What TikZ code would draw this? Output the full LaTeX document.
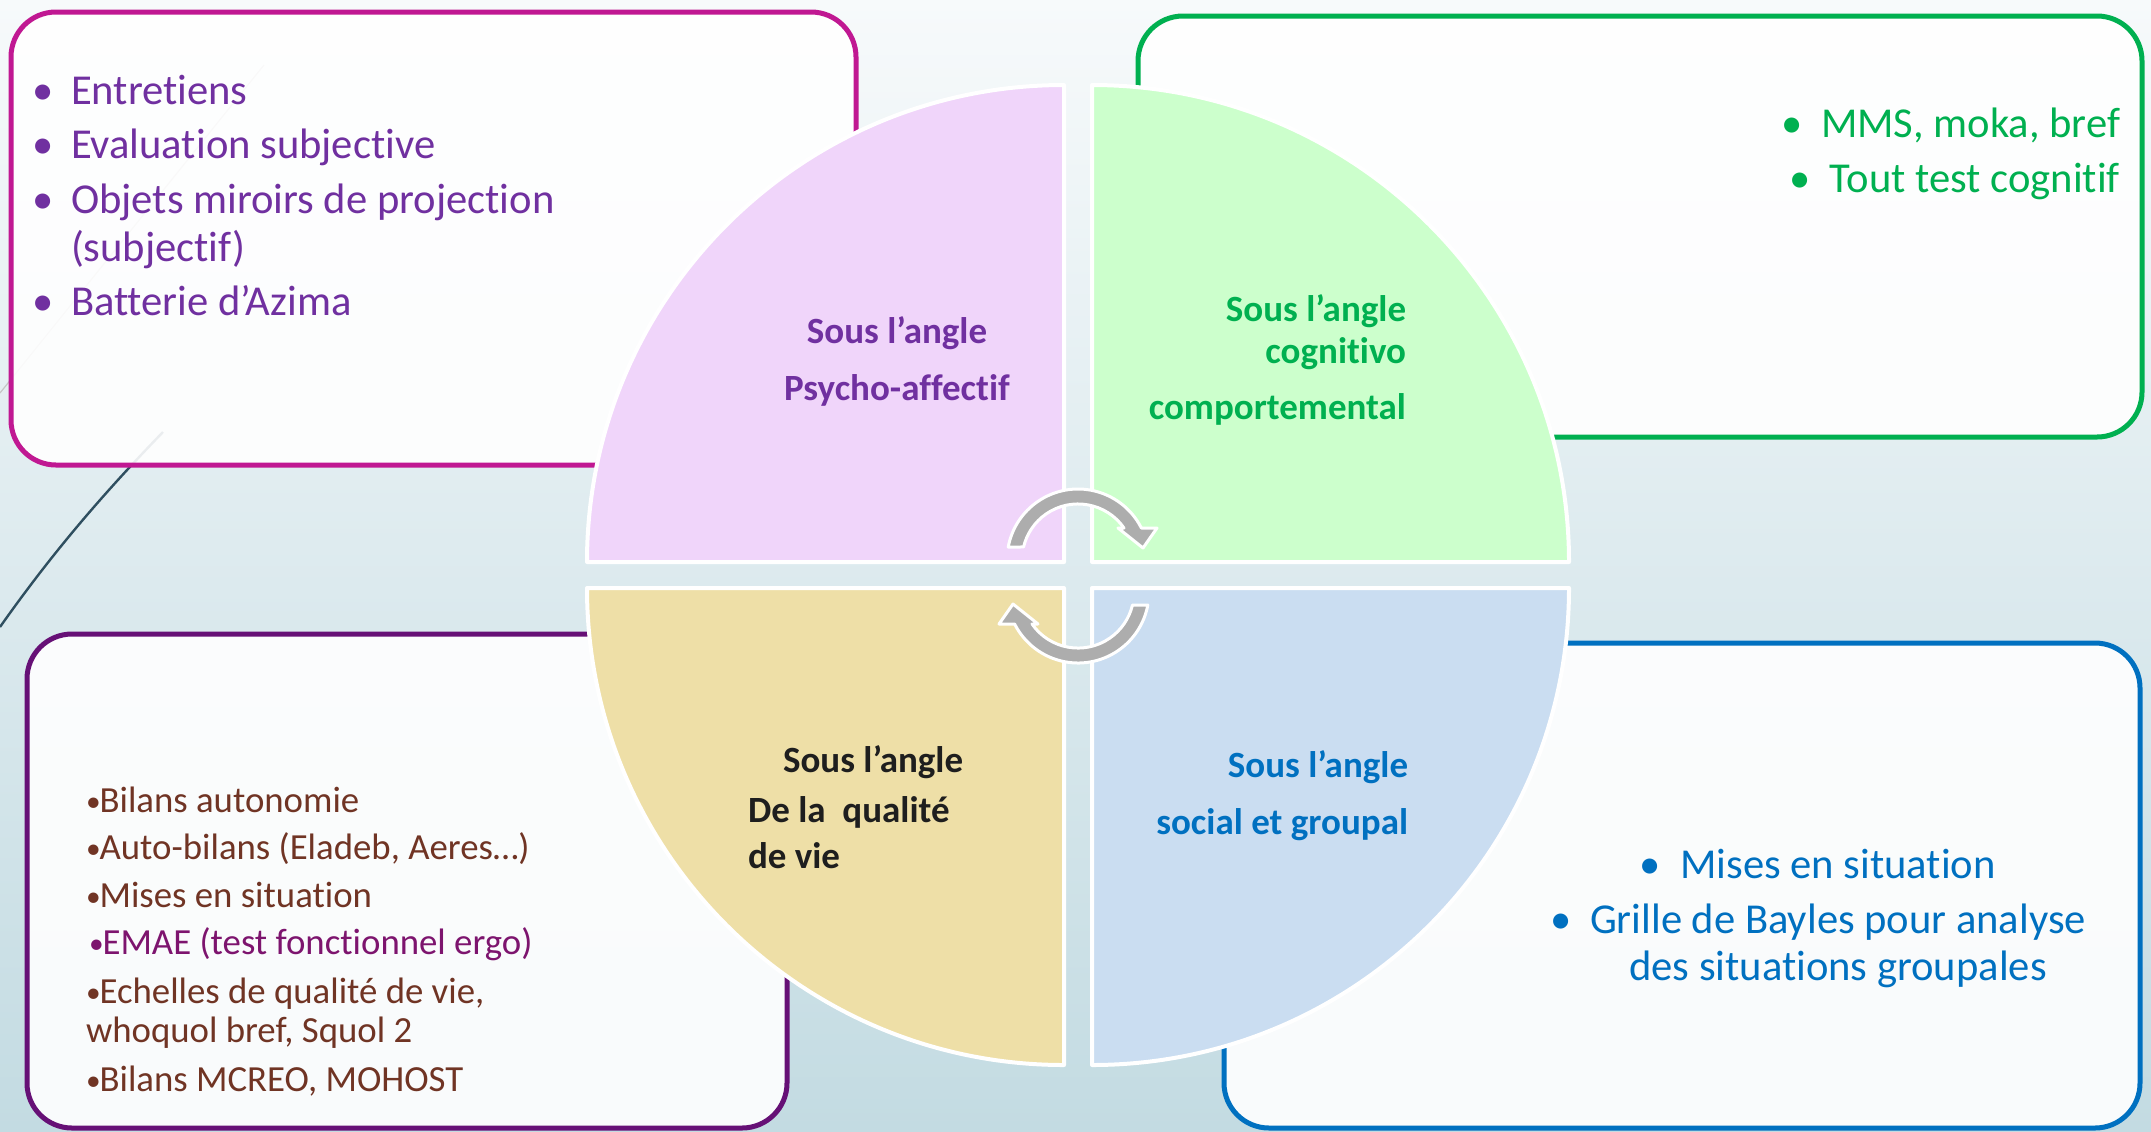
\documentclass[tikz,border=0pt]{standalone}
\usepackage{fontspec}
\setmainfont{Carlito}[Ligatures=NoCommon]
\usetikzlibrary{calc}

% palette
\definecolor{bgtop}{RGB}{247,250,251}
\definecolor{bgbot}{RGB}{195,219,226}
\definecolor{frameA}{RGB}{192,24,146}
\definecolor{frameB}{RGB}{0,176,80}
\definecolor{frameC}{RGB}{102,16,118}
\definecolor{frameD}{RGB}{0,112,192}
\definecolor{quadA}{RGB}{240,213,250}
\definecolor{quadB}{RGB}{204,255,204}
\definecolor{quadC}{RGB}{238,223,167}
\definecolor{quadD}{RGB}{202,221,241}
\definecolor{txtA}{RGB}{112,48,160}
\definecolor{txtB}{RGB}{0,176,80}
\definecolor{txtC}{RGB}{30,30,30}
\definecolor{txtD}{RGB}{0,112,192}
\definecolor{brownt}{RGB}{112,52,36}
\definecolor{emaet}{RGB}{125,20,110}
\definecolor{arrowgrey}{RGB}{173,173,173}
\definecolor{slate}{RGB}{47,79,96}

% tight bullet used in the lower-left list
\newcommand{\tightdot}{\raisebox{0.02em}{\scalebox{0.8}{•}}\kern-0.03em}

\tikzset{
  panel/.style={line width=2.5pt, rounded corners=22.5pt, fill=white, fill opacity=0.9, draw opacity=1},
  quarter/.style={draw=white, line width=2pt, line join=round},
  cyclearrow/.style={fill=arrowgrey, draw=white, line width=1.5pt, line join=round},
  plain/.style={inner sep=0pt, outer sep=0pt},
  bigtxt/.style={plain, font=\fontsize{21.3}{25}\selectfont},
  smalltxt/.style={plain, font=\fontsize{18.4}{22}\selectfont, text=brownt},
  lbl/.style={plain, font=\bfseries\fontsize{18.5}{22}\selectfont},
}

\begin{document}
\begin{tikzpicture}[x=0.5pt,y=-0.5pt]
\useasboundingbox (0,0) rectangle (2151,1131);

% slide background
\fill[top color=bgtop, bottom color=bgbot] (0,0) rectangle (2151,1131);
\draw[gray!45, line width=0.6pt] (264,65) -- (0,393);
\draw[slate, line width=1.2pt] (0,627) .. controls (50,556) and (100,497) .. (163,432);

% the four framed panels
\draw[panel, draw=frameA] (11,12) rectangle (856,465);
\draw[panel, draw=frameB] (1138,16) rectangle (2142,437);
\draw[panel, draw=frameC] (27,634) rectangle (787,1128);
\draw[panel, draw=frameD] (1224,643) rectangle (2140,1128);

% the four quarter discs
\filldraw[quarter, fill=quadA] (1064,562) -- (587,562) arc[start angle=180, end angle=270, radius=477] -- cycle;
\filldraw[quarter, fill=quadB] (1092,562) -- (1092,85) arc[start angle=270, end angle=360, radius=477] -- cycle;
\filldraw[quarter, fill=quadC] (1064,588) -- (1064,1065) arc[start angle=90, end angle=180, radius=477] -- cycle;
\filldraw[quarter, fill=quadD] (1092,588) -- (1569,588) arc[start angle=0, end angle=90, radius=477] -- cycle;

% circular arrows in the middle
\begin{scope}[shift={(1078,560)}]
  \filldraw[cyclearrow] (-69.8,-13) arc[start angle=190.55, end angle=333.2, radius=71]
    -- (79,-32) -- (65,-12) -- (40,-32) -- (46,-32)
    arc[start angle=325.2, end angle=193.4, radius=56] -- cycle;
\end{scope}
\begin{scope}[shift={(1078,592)}, rotate=180]
  \filldraw[cyclearrow] (-69.8,-13) arc[start angle=190.55, end angle=333.2, radius=71]
    -- (79,-32) -- (65,-12) -- (40,-32) -- (46,-32)
    arc[start angle=325.2, end angle=193.4, radius=56] -- cycle;
\end{scope}

% quarter labels
\node[lbl, text=txtA, anchor=base] (qa1) at (897,343) {Sous l’angle};
\node[lbl, text=txtA, anchor=base] (qa2) at (897,400) {Psycho-affectif};

\node[lbl, text=txtB, anchor=base east] (qb1) at (1406,321) {Sous l’angle};
\node[lbl, text=txtB, anchor=base east] (qb2) at (1406,363) {cognitivo};
\node[lbl, text=txtB, anchor=base east] (qb3) at (1406,419) {comportemental};

\node[lbl, text=txtC, anchor=base west] (qc1) at (783,772) {Sous l’angle};
\node[lbl, text=txtC, anchor=base west] (qc2) at (748,822) {De la\ \ qualité};
\node[lbl, text=txtC, anchor=base west] (qc3) at (748,868) {de vie};

\node[lbl, text=txtD, anchor=base east] (qd1) at (1408,777) {Sous l’angle};
\node[lbl, text=txtD, anchor=base east] (qd2) at (1408,834) {social et groupal};

% panel A: list
\foreach \nm/\yy/\tx in {a1/104/Entretiens, a2/158/Evaluation subjective, a3/213/Objets miroirs de projection, a5/315/Batterie d’Azima}{
  \node[bigtxt, text=txtA, anchor=base west] (\nm) at (71,\yy) {\tx};
  \node[bigtxt, text=txtA, anchor=base] (\nm b) at ([xshift=-14pt]\nm.base west) {•};
}
\node[bigtxt, text=txtA, anchor=base west] (a4) at (71,261) {(subjectif)};

% panel B: list
\node[bigtxt, text=txtB, anchor=base east] (b1) at (2120,137) {MMS, moka, bref};
\node[bigtxt, text=txtB, anchor=base] (b1b) at ([xshift=-14.5pt]b1.base west) {•};
\node[bigtxt, text=txtB, anchor=base east] (b2) at (2120,192) {Tout test cognitif};
\node[bigtxt, text=txtB, anchor=base] (b2b) at ([xshift=-15pt]b2.base west) {•};

% panel C: list
\node[smalltxt, anchor=base west] (c1) at (86,812) {\tightdot Bilans autonomie};
\node[smalltxt, anchor=base west] (c2) at (86,859) {\tightdot Auto-bilans (Eladeb, Aeres…)};
\node[smalltxt, anchor=base west] (c3) at (86,907) {\tightdot Mises en situation};
\node[smalltxt, text=emaet, anchor=base west] (c4) at (89,954) {\tightdot EMAE (test fonctionnel ergo)};
\node[smalltxt, anchor=base west] (c5) at (86,1003) {\tightdot Echelles de qualité de vie,};
\node[smalltxt, anchor=base west] (c6) at (86,1042) {whoquol bref, Squol 2};
\node[smalltxt, anchor=base west] (c7) at (86,1091) {\tightdot Bilans MCREO, MOHOST};

% panel D: list
\node[bigtxt, text=txtD, anchor=base] (d1) at (1838,878) {Mises en situation};
\node[bigtxt, text=txtD, anchor=base] (d1b) at ([xshift=-15pt]d1.base west) {•};
\node[bigtxt, text=txtD, anchor=base] (d2) at (1838,933) {Grille de Bayles pour analyse};
\node[bigtxt, text=txtD, anchor=base] (d2b) at ([xshift=-14.5pt]d2.base west) {•};
\node[bigtxt, text=txtD, anchor=base] (d3) at (1838,980) {des situations groupales};
\end{tikzpicture}
\end{document}
